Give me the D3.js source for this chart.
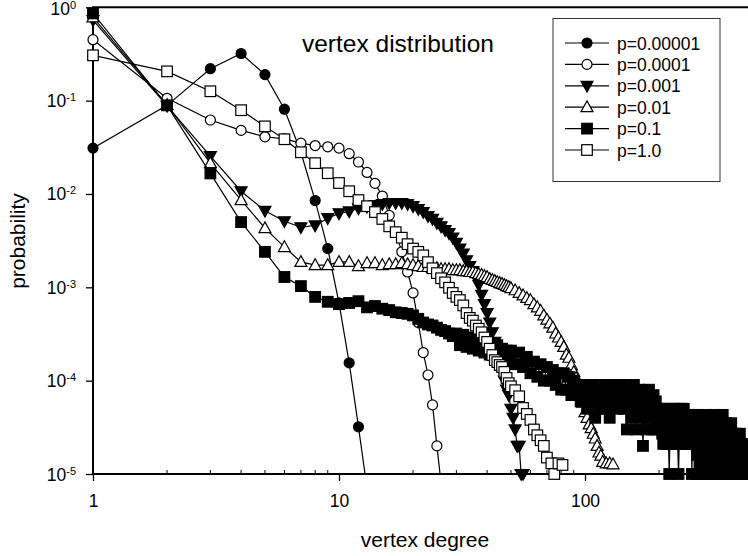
<!DOCTYPE html>
<html><head><meta charset="utf-8">
<script src="https://cdn.jsdelivr.net/npm/d3@7"></script>
<style>
body{margin:0;background:#fff}
svg{display:block}
text{font-family:"Liberation Sans",Arial,Helvetica,sans-serif;fill:#000}
</style>
</head><body>
<svg id="chart" width="748" height="556"></svg>
<script>
// ---------- data ----------
const chartTitle = "vertex distribution";
const xTitle = "vertex degree";
const yTitle = "probability";
const xTickValues = [1, 10, 100];
const xTickLabels = ["1", "10", "100"];
const yTickExponents = [0, -1, -2, -3, -4, -5];
const seriesLabels = ["p=0.00001", "p=0.0001", "p=0.001", "p=0.01", "p=0.1", "p=1.0"];
const seriesShapes = ["circle", "circle", "triangleDown", "triangleUp", "square", "square"];
const seriesFilled = [true, false, true, false, true, false];

// p=0.00001 (filled circles)
const degA = [1,2,3,4,5,6,7,8,9,10,11,12,13];
const probA = [0.031,0.089,0.22,0.32,0.19,0.081,0.028,0.0085,0.0026,6.8e-4,1.55e-4,3.2e-5,7e-6];

// p=0.0001 (open circles)
const degB = [1,2,3,4,5,6,7,8,9,10,11,12,13,14,15,16,17,18,19,20,21,22,23,24,25,26];
const probB = [0.45,0.106,0.062,0.048,0.041,0.039,0.035,0.033,0.032,0.031,
  0.027,0.022,0.017,0.013,0.0095,0.0059,0.0039,0.0024,0.00146,8.7e-4,
  4.2e-4,2.0e-4,1.15e-4,5.5e-5,2.0e-5,8e-6];

// p=0.001 (filled down triangles)
const degC = [1,2,3,4,5,6,7,8,9,10,11,12,13,14,15,16,17,18,19,20,
  21,22,23,24,25,26,27,28,29,30,31,32,33,34,35,36,37,38,39,40,
  41,42,43,44,45,46,47,48,49,50,51,52,53,54,55,56];
const probC = [0.73,0.088,0.0254,0.0107,0.0066,0.0051,0.0044,0.0046,0.0055,0.0062,
  0.0065,0.0070,0.0073,0.0076,0.0078,0.0080,0.0080,0.0080,0.0078,0.0074,
  0.0069,0.0064,0.0058,0.0054,0.0049,0.0045,0.0041,0.0038,0.0034,0.0030,
  0.0026,0.0023,0.00195,0.00169,0.00149,0.00129,0.00106,0.00083,0.00066,0.00053,
  4.2e-4,3.3e-4,2.6e-4,2.0e-4,1.58e-4,1.24e-4,1.0e-4,8e-5,7e-5,5e-5,
  4e-5,3e-5,2e-5,2e-5,1e-5,1e-5];

// p=0.01 (open up triangles)
const degD = [1,2,3,4,5,6,7,8,9,10,11,12,13,14,15,16,17,18,19,20,
  21,22,23,24,25,26,27,28,29,30,31,32,33,34,35,36,37,38,39,40,
  41,42,43,44,45,46,47,48,49,50,52,54,56,58,60,62,64,66,68,70,
  72,74,76,78,80,82,84,86,88,90,92,94,96,98,100,102,104,106,108,110,
  112,114,116,118,122,126,130];
const probD = [0.78,0.090,0.0214,0.0086,0.0043,0.0027,0.00187,0.00173,0.00173,0.00187,
  0.00187,0.00169,0.00182,0.00182,0.00173,0.00177,0.00177,0.00182,0.00177,0.00173,
  0.00169,0.00165,0.00165,0.00161,0.00161,0.00157,0.00157,0.00157,0.00153,0.00153,
  0.00153,0.00149,0.00149,0.00146,0.00146,0.00142,0.00139,0.00136,0.00132,0.00129,
  0.00123,0.00120,0.00117,0.00114,0.00111,0.00109,0.00106,0.00103,0.00101,9.8e-4,
  9.3e-4,8.7e-4,8.2e-4,7.7e-4,7.3e-4,6.6e-4,6.1e-4,5.6e-4,5.0e-4,4.5e-4,
  4.1e-4,3.7e-4,3.2e-4,2.9e-4,2.6e-4,2.3e-4,1.9e-4,1.76e-4,1.47e-4,1.24e-4,
  1.07e-4,8.7e-5,7.3e-5,5.8e-5,4.6e-5,4.0e-5,3.4e-5,3.1e-5,2.7e-5,2.4e-5,
  2.0e-5,1.7e-5,1.57e-5,1.35e-5,1.3e-5,1.3e-5,1.27e-5];

// p=0.1 (filled squares)
const degE = [1,2,3,4,5,6,7,8,9,10,11,12,13,14,15,16,17,18,19,20,
  21,22,23,24,25,26,27,28,29,30,31,32,33,34,35,36,37,38,39,40,
  41,42,43,44,45,46,47,48,49,
  50,52,54,56,58,60,62,64,66,68,70,72,74,76,78,80,82,84,86,88,90,92,94,96,98,
  100,102,104,106,108,110,112,114,116,118,120,122,124,126,128,130,132,134,136,138,
  140,142,144,146,148,150,152,154,156,158,160,162,164,166,168,170,172,174,176,178,
  180,182,184,186,188,190,192,194,196,198,
  200,202,204,206,208,210,212,214,216,218,220,222,224,226,228,230,232,234,236,238,
  240,242,244,246,248,250,252,254,256,258,260,262,264,266,268,270,272,274,276,278,
  280,282,284,286,288,290,292,294,296,298,
  300,303,306,309,312,315,318,321,324,327,330,333,336,339,342,345,348,351,354,357,
  360,363,366,369,372,375,378,381,384,387,390,393,396,399,402,405,408,411,414,417,
  420,423,426,429,432,435,438,441,444,447,450,453,456,459];
const probE = [0.86,0.089,0.0166,0.0050,0.0024,0.00129,0.00103,7.9e-4,7.0e-4,6.6e-4,
  6.8e-4,7.1e-4,6.1e-4,6.3e-4,5.9e-4,5.7e-4,5.4e-4,5.3e-4,5.2e-4,5.0e-4,
  4.6e-4,4.2e-4,4.0e-4,3.9e-4,3.7e-4,3.5e-4,3.4e-4,3.2e-4,3.0e-4,3.2e-4,
  2.4e-4,3.1e-4,2.3e-4,2.9e-4,2.2e-4,2.9e-4,2.1e-4,2.7e-4,2.0e-4,2.6e-4,
  1.9e-4,2.5e-4,1.8e-4,2.4e-4,1.7e-4,2.2e-4,1.6e-4,2.1e-4,1.6e-4,
  2.1e-4,1.5e-4,2.0e-4,1.4e-4,1.8e-4,1.2e-4,1.6e-4,1.1e-4,1.5e-4,1.0e-4,1.4e-4,1.0e-4,1.3e-4,9e-5,1.2e-4,8e-5,1.2e-4,8e-5,1.1e-4,7e-5,1.0e-4,7e-5,9e-5,6e-5,9e-5,
  7e-5,5e-5,8e-5,6e-5,9e-5,4e-5,7e-5,5e-5,8e-5,6e-5,9e-5,5e-5,7e-5,4e-5,8e-5,6e-5,9e-5,7e-5,5e-5,8e-5,
  6e-5,9e-5,5e-5,7e-5,3e-5,8e-5,6e-5,4e-5,7e-5,9e-5,5e-5,3e-5,6e-5,8e-5,4e-5,7e-5,2e-5,5e-5,7e-5,3e-5,
  6e-5,8e-5,4e-5,5e-5,3e-5,7e-5,4e-5,6e-5,3e-5,5e-5,
  5e-5,3.4e-5,4.3e-5,2.7e-5,2.1e-5,5e-5,3.4e-5,4.3e-5,2.1e-5,2.7e-5,
  1e-5,3.4e-5,5e-5,2.1e-5,4.3e-5,2.7e-5,5e-5,3.4e-5,4.3e-5,2.1e-5,
  1e-5,2.7e-5,5e-5,2.1e-5,4.3e-5,3.4e-5,5e-5,2.1e-5,4.3e-5,2.7e-5,
  2.1e-5,4.3e-5,3.4e-5,2.7e-5,2.1e-5,3.4e-5,1e-5,4.3e-5,2.1e-5,3.4e-5,
  2.7e-5,2.1e-5,1e-5,4.3e-5,1.6e-5,3.4e-5,1.3e-5,2.7e-5,2.1e-5,1e-5,
  3.5e-5,1.3e-5,2.7e-5,1e-5,4.3e-5,1.6e-5,2.1e-5,1e-5,3.5e-5,1.3e-5,2.7e-5,
  1.6e-5,4.3e-5,1e-5,2.1e-5,1.3e-5,3.5e-5,1.6e-5,2.7e-5,1e-5,2.1e-5,4.3e-5,
  1.3e-5,2.7e-5,1e-5,3.5e-5,1.6e-5,2.1e-5,1e-5,2.7e-5,1.3e-5,3.5e-5,1.6e-5,
  2.7e-5,1e-5,2.1e-5,1.3e-5,2.7e-5,1.6e-5,1e-5,2.1e-5,1.3e-5,2.7e-5,1e-5,
  2.1e-5,1.3e-5,1.6e-5,1e-5,2.1e-5,1.3e-5,1.6e-5,1e-5,2.1e-5,1.3e-5];

// p=1.0 (open squares)
const degF = [1,2,3,4,5,6,7,8,9,10,11,12,13,14,15,16,17,18,19,20,
  21,22,23,24,25,26,27,28,29,30,31,32,33,34,35,36,37,38,39,40,
  41,42,43,44,45,46,47,48,49,50,52,54,56,58,60,62,64,66,68,70,73,75,78,81];
const probF = [0.306,0.206,0.126,0.079,0.053,0.0386,0.028,0.0214,0.0167,0.0131,
  0.0107,0.0086,0.0074,0.0064,0.0054,0.0045,0.0039,0.0034,0.0029,0.0026,
  0.0024,0.0022,0.00186,0.0016,0.00142,0.00125,0.00113,0.00099,0.00087,0.00079,
  7.3e-4,6.4e-4,5.3e-4,4.7e-4,4.4e-4,3.9e-4,3.6e-4,3.3e-4,2.9e-4,2.6e-4,
  2.2e-4,1.88e-4,1.66e-4,1.58e-4,1.47e-4,1.40e-4,1.24e-4,1.07e-4,9.4e-5,8.7e-5,
  7.9e-5,6.8e-5,5.1e-5,4.4e-5,3.8e-5,3.0e-5,2.6e-5,2.3e-5,2.0e-5,1.5e-5,1.3e-5,1.0e-5,1.3e-5,1.25e-5];

const seriesDegrees = [degA, degB, degC, degD, degE, degF];
const seriesProbs = [probA, probB, probC, probD, probE, probF];

// ---------- drawing ----------
const W = 748, H = 556;
const plotLeft = 93, plotTop = 7.3, plotBottom = 474;
const decade = 246;
const svg = d3.select("#chart");

const x = d3.scaleLog().domain([1, 1000]).range([plotLeft, plotLeft + 3 * decade]);
const y = d3.scaleLog().domain([1e-5, 1]).range([plotBottom, plotTop]);

svg.append("defs").append("clipPath").attr("id", "plotClip")
  .append("rect").attr("x", plotLeft).attr("y", plotTop)
  .attr("width", W - plotLeft + 20).attr("height", plotBottom - plotTop);

const fontTick = 17.5;

// minor ticks on x (inward)
const minorX = [];
[1, 10, 100].forEach(d => { for (let k = 2; k <= 9; k++) minorX.push(d * k); });
svg.append("g").selectAll("line").data(minorX.filter(v => x(v) < W)).join("line")
  .attr("x1", d => x(d)).attr("x2", d => x(d))
  .attr("y1", plotBottom).attr("y2", plotBottom - 4)
  .attr("stroke", "#000").attr("stroke-width", 1);

// major x ticks (outward) + labels via d3 axis
const xAxis = d3.axisBottom(x).tickValues(xTickValues)
  .tickFormat((d, i) => xTickLabels[i]).tickSize(7).tickPadding(14);
const gx = svg.append("g").attr("transform", `translate(0,${plotBottom})`).call(xAxis);
gx.select(".domain").remove();
gx.selectAll("line").attr("stroke-width", 1.3);
gx.selectAll("text").attr("font-size", fontTick).attr("font-family", "Liberation Sans, Arial, sans-serif");

// y ticks
const yTickVals = yTickExponents.map(e => Math.pow(10, e));
const yAxis = d3.axisLeft(y).tickValues(yTickVals).tickFormat("").tickSize(7);
const gy = svg.append("g").attr("transform", `translate(${plotLeft},0)`).call(yAxis);
gy.select(".domain").remove();
gy.selectAll("line").attr("stroke-width", 1.3);

const yl = svg.append("g").selectAll("text").data(yTickExponents).join("text")
  .attr("x", 76).attr("y", d => Math.max(y(Math.pow(10, d)) + 6.5, 15))
  .attr("text-anchor", "end").attr("font-size", fontTick);
yl.append("tspan").text("10");
yl.append("tspan").attr("dy", -6).attr("font-size", 11).text(d => String(d));

// frame: left, bottom, top
svg.append("line").attr("x1", plotLeft).attr("x2", plotLeft).attr("y1", plotTop).attr("y2", plotBottom + 0.5)
  .attr("stroke", "#000").attr("stroke-width", 2);
svg.append("line").attr("x1", plotLeft - 1).attr("x2", W + 5).attr("y1", plotBottom).attr("y2", plotBottom)
  .attr("stroke", "#000").attr("stroke-width", 2);
svg.append("line").attr("x1", plotLeft - 1).attr("x2", W + 5).attr("y1", plotTop).attr("y2", plotTop)
  .attr("stroke", "#000").attr("stroke-width", 2);

// markers
function drawMarker(g, shape, filled, cx, cy) {
  const fill = filled ? "#000" : "#fff";
  let el;
  if (shape === "circle") {
    el = g.append("circle").attr("cx", cx).attr("cy", cy).attr("r", 5);
  } else if (shape === "square") {
    el = g.append("rect").attr("x", cx - 5.3).attr("y", cy - 5.3).attr("width", 10.6).attr("height", 10.6);
  } else if (shape === "triangleUp") {
    el = g.append("path").attr("d", `M${cx},${cy - 6.3}L${cx + 6},${cy + 4.5}L${cx - 6},${cy + 4.5}Z`);
  } else {
    el = g.append("path").attr("d", `M${cx},${cy + 6.3}L${cx + 6},${cy - 4.5}L${cx - 6},${cy - 4.5}Z`);
  }
  el.attr("fill", fill).attr("stroke", "#000").attr("stroke-width", 1.2);
}

const line = d3.line().x(d => x(d[0])).y(d => y(d[1]));
seriesLabels.forEach((lab, i) => {
  const pts = seriesDegrees[i].map((dg, j) => [dg, seriesProbs[i][j]]);
  const g = svg.append("g");
  g.append("path").datum(pts).attr("d", line).attr("fill", "none")
    .attr("stroke", "#000").attr("stroke-width", 1.2).attr("clip-path", "url(#plotClip)");
  pts.filter(p => p[1] >= 0.99e-5 && x(p[0]) < W + 10).forEach(p => {
    drawMarker(g, seriesShapes[i], seriesFilled[i], x(p[0]), y(p[1]));
  });
});

// title
svg.append("text").attr("x", 398).attr("y", 52).attr("text-anchor", "middle")
  .attr("font-size", 24.5).text(chartTitle);

// axis titles
svg.append("text").attr("x", 425).attr("y", 547).attr("text-anchor", "middle")
  .attr("font-size", 21).text(xTitle);
svg.append("text").attr("transform", "translate(25,241) rotate(-90)").attr("text-anchor", "middle")
  .attr("font-size", 21).text(yTitle);

// legend
const lg = svg.append("g");
lg.append("rect").attr("x", 553).attr("y", 18.5).attr("width", 167).attr("height", 163)
  .attr("fill", "#fff").attr("stroke", "#333").attr("stroke-width", 1);
seriesLabels.forEach((lab, i) => {
  const ry = 43 + i * 21.4;
  lg.append("line").attr("x1", 565).attr("x2", 609).attr("y1", ry).attr("y2", ry)
    .attr("stroke", "#000").attr("stroke-width", 1.2);
  drawMarker(lg, seriesShapes[i], seriesFilled[i], 587, ry);
  lg.append("text").attr("x", 617).attr("y", ry + 6.5).attr("font-size", 17.5).text(lab);
});
</script>
</body></html>
